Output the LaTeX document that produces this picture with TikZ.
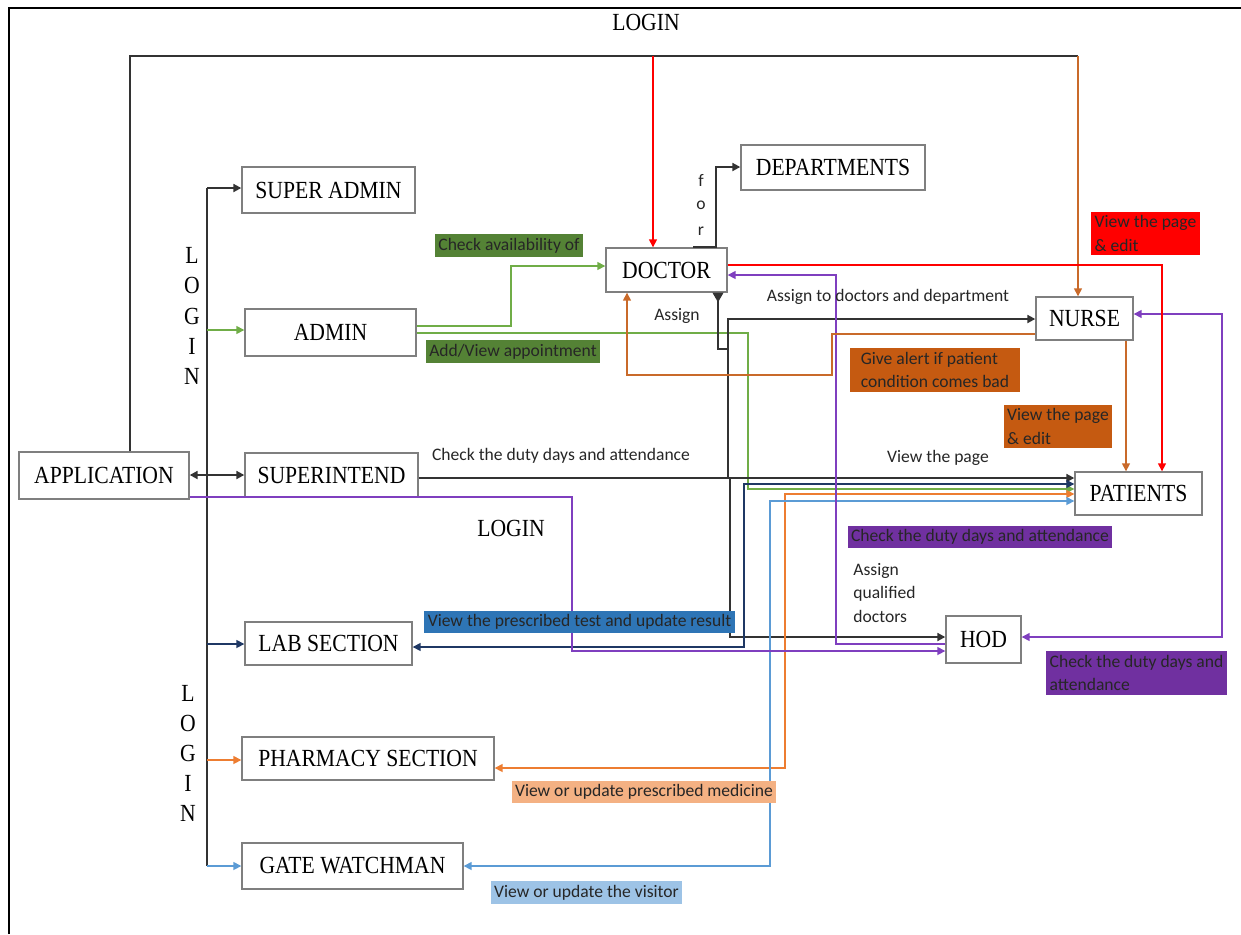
\documentclass[tikz,border=0pt]{standalone}
\usepackage{fontspec}
\setmainfont{Liberation Serif}
\newfontfamily\nodefont[FakeStretch=0.88]{Liberation Serif}
\newfontfamily\lblfont{Carlito}
\usetikzlibrary{arrows.meta}
\definecolor{boxgray}{HTML}{7F7F7F}
\definecolor{grnline}{HTML}{70AD47}
\definecolor{grnlbl}{HTML}{548235}
\definecolor{dblu}{HTML}{1F3864}
\definecolor{blulbl}{HTML}{2E75B6}
\definecolor{lorg}{HTML}{ED7D31}
\definecolor{lorglbl}{HTML}{F4B183}
\definecolor{lblu}{HTML}{5B9BD5}
\definecolor{lblulbl}{HTML}{9DC3E6}
\definecolor{purline}{HTML}{7F3FBF}
\definecolor{purlbl}{HTML}{7030A0}
\definecolor{orgline}{HTML}{C96A2A}
\definecolor{orglbl}{HTML}{C55A11}
\definecolor{txt}{HTML}{262626}
\tikzset{
  x=0.02cm, y=-0.02cm,
  >={Triangle[length=4.5pt,width=4.5pt]},
  box/.style={draw=boxgray, line width=0.8pt, inner sep=0pt, font=\nodefont\fontsize{14}{16}\selectfont, text=black},
  blk/.style={draw=black!80, line width=1.1pt},
  cl/.style={line width=0.85pt},
  lbl/.style={font=\lblfont\fontsize{10}{13.6}\selectfont, inner sep=2pt, text=txt, align=left},
  plain/.style={font=\lblfont\fontsize{10}{13.6}\selectfont, inner sep=0pt, text=txt, align=left},
  serif/.style={font=\nodefont\fontsize{14}{16}\selectfont, inner sep=0pt, text=black},
}
\begin{document}
\begin{tikzpicture}
\useasboundingbox (0,0) rectangle (1241,934);
% frame
\draw[line width=1pt] (9,934) -- (9,8) -- (1241,8);

% nodes
\node[box, minimum width=3.4cm, minimum height=0.94cm] (app) at (104,475.5) {APPLICATION};
\node[box, minimum width=3.46cm, minimum height=0.92cm] (sadmin) at (328.5,190) {SUPER ADMIN};
\node[box, minimum width=3.42cm, minimum height=0.94cm] (admin) at (330.5,332.5) {ADMIN};
\node[box, minimum width=3.46cm, minimum height=0.88cm] (supt) at (331.5,475) {SUPERINTEND};
\node[box, minimum width=3.34cm, minimum height=0.86cm] (lab) at (328.5,643.5) {LAB SECTION};
\node[box, minimum width=5.04cm, minimum height=0.86cm] (pharm) at (368,758.5) {PHARMACY SECTION};
\node[box, minimum width=4.42cm, minimum height=0.92cm] (gate) at (352.5,866) {GATE WATCHMAN};
\node[box, minimum width=2.42cm, minimum height=0.88cm] (doctor) at (666.5,270) {DOCTOR};
\node[box, minimum width=3.68cm, minimum height=0.9cm] (dept) at (833,167.5) {DEPARTMENTS};
\node[box, minimum width=1.94cm, minimum height=0.86cm] (nurse) at (1084.5,318.5) {NURSE};
\node[box, minimum width=2.54cm, minimum height=0.86cm] (patients) at (1138.5,493.5) {PATIENTS};
\node[box, minimum width=1.5cm, minimum height=0.94cm] (hod) at (983.5,639.5) {HOD};

% coordinates
\coordinate (bt) at (207,188);
\coordinate (bb) at (207,866);
\coordinate (tl) at (130,56);
\coordinate (tm) at (653,56);
\coordinate (tr) at (1078,56);

% login bus
\draw[blk] (bt) -- (bb);
\draw[blk,->] (bt) -- (sadmin.west |- bt);
\draw[cl,grnline,->] (bt |- 0,330) -- (admin.west |- 0,330);
\draw[blk,<->] (app.east |- 0,475) -- (supt.west |- 0,475);
\draw[cl,dblu,->] (bt |- 0,644) -- (lab.west |- 0,644);
\draw[cl,lorg,->] (bt |- 0,760) -- (pharm.west |- 0,760);
\draw[cl,lblu,->] (bb) -- (gate.west |- bb);

% top login line
\draw[blk] (app.north -| tl) -- (tl) -- (tr);
\draw[cl,red,->] (tm) -- (doctor.north -| tm);
\draw[cl,orgline,->] (tr) -- (nurse.north -| tr);

% admin green
\draw[cl,grnline,->] (admin.east |- 0,326) -- (511,326) -- (511,266) -- (doctor.west |- 0,266);
\draw[cl,grnline,->] (admin.east |- 0,333) -- (748,333) -- (748,489) -- (patients.west |- 0,489);

% doctor for departments
\draw[blk,->] (doctor.north -| 693,0) -- (doctor.north -| 716,0) -- (716,167) -- (dept.west |- 0,167);

% assign lines (black)
\draw[blk,{Triangle[reversed,length=5.5pt,width=6pt]}-] (doctor.south -| 718,0) -- (718,349) -- (728,349);
\draw[blk,->] (supt.east |- 0,478) -- (patients.west |- 0,478);
\draw[blk,->] (728,478) -- (728,319) -- (nurse.west |- 0,319);
\draw[blk,->] (730,478) -- (730,637) -- (hod.west |- 0,637);

% lab, pharmacy, gate
\draw[cl,dblu,<->] (lab.east |- 0,647) -- (744,647) -- (744,484) -- (patients.west |- 0,484);
\draw[cl,lorg,<->] (pharm.east |- 0,768) -- (785,768) -- (785,494) -- (patients.west |- 0,494);
\draw[cl,lblu,<->] (gate.east |- 0,866) -- (770,866) -- (770,501) -- (patients.west |- 0,501);

% purple
\draw[cl,purline,->] (app.east |- 0,497) -- (572,497) -- (572,651) -- (hod.west |- 0,651);
\draw[cl,purline,->] (hod.west |- 0,644) -- (836,644) -- (836,275) -- (doctor.east |- 0,275);
\draw[cl,purline,<->] (nurse.east |- 0,314) -- (1222,314) -- (1222,637) -- (hod.east |- 0,637);

% red and orange
\draw[cl,red,->] (doctor.east |- 0,265) -- (1162,265) -- (patients.north -| 1162,0);
\draw[cl,orgline,->] (nurse.south -| 1126,0) -- (patients.north -| 1126,0);
\draw[cl,orgline,->] (nurse.west |- 0,334) -- (832,334) -- (832,375) -- (627,375) -- (doctor.south -| 627,0);

% filled labels
\node[lbl, fill=grnlbl] (l1) at (509,245.5) {Check availability of};
\node[lbl, fill=grnlbl] (l2) at (513,351.5) {Add/View appointment};
\node[lbl, fill=blulbl] (l3) at (579.5,622) {View the prescribed test and update result};
\node[lbl, fill=lorglbl] (l4) at (644,792) {View or update prescribed medicine};
\node[lbl, fill=lblulbl] (l5) at (586.5,892.5) {View or update the visitor};
\node[lbl, fill=purlbl] (l6) at (980,537) {Check the duty days and attendance};
\node[lbl, fill=purlbl, minimum width=3.54cm] (l7) at (1136.5,673) {Check the duty days and\\attendance};
\node[lbl, fill=red, minimum width=2.06cm] (l8) at (1145.5,233.5) {View the page\\\& edit};
\node[lbl, fill=orglbl, minimum width=2.08cm] (l9) at (1058,426.5) {View the page\\\& edit};
\node[lbl, fill=orglbl, minimum width=3.4cm] (l10) at (935,370) {Give alert if patient\\condition comes bad};

% plain labels
\node[serif] (t1) at (646,22) {LOGIN};
\node[serif] (t2) at (511,528) {LOGIN};
\foreach \c/\yy in {L/255,O/285,G/316,I/346,N/376} \node[serif] at (192,\yy) {\c};
\foreach \c/\yy in {L/693,O/723,G/753,I/783,N/813} \node[serif] at (188,\yy) {\c};
\foreach \c/\yy in {f/180,o/205,r/231} \node[plain] at (701,\yy) {\c};
\node[plain] (t3) at (677,316) {Assign};
\node[plain] (t4) at (888,297) {Assign to doctors and department};
\node[plain] (t5) at (561,456) {Check the duty days and attendance};
\node[plain] (t6) at (938,458) {View the page};
\node[plain, anchor=west] (t7) at (853,593) {Assign\\qualified\\doctors};
\end{tikzpicture}
\end{document}
